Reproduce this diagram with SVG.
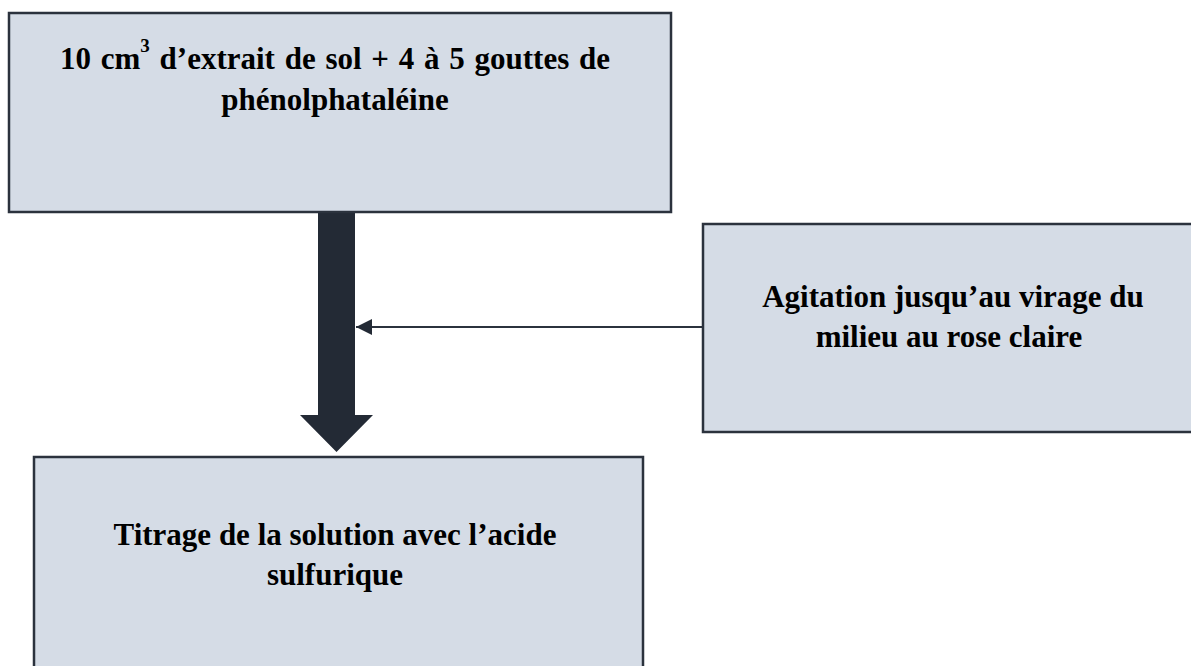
<svg xmlns="http://www.w3.org/2000/svg" width="1191" height="666" viewBox="0 0 1191 666">
  <defs>
    <style>
      .box { fill: #d5dce6; stroke: #2b323d; stroke-width: 2.5; }
      .label { font-family: "Liberation Serif", "Times New Roman", serif; font-weight: bold; font-size: 31px; fill: #000; text-anchor: middle; }
      .wide { word-spacing: 2px; }
      .sup { font-size: 19px; }
      .flow { fill: #232a35; }
      .link { stroke: #2b323d; stroke-width: 2; fill: none; }
    </style>
    <marker id="head" markerWidth="16" markerHeight="16" refX="16" refY="8" orient="auto" markerUnits="userSpaceOnUse">
      <path d="M0,0 L16,8 L0,16 Z" fill="#232a35"/>
    </marker>
  </defs>

  <rect width="1191" height="666" fill="#ffffff"/>

  <!-- connectors -->
  <g id="connectors">
    <path class="flow" d="M318,212 H355 V415 H373 L336.5,452 L300,415 H318 Z"/>
    <line class="link" x1="704" y1="327" x2="356" y2="327" marker-end="url(#head)"/>
  </g>

  <!-- start: sample preparation -->
  <g id="node-sample">
    <rect class="box" x="9" y="13" width="662" height="199"/>
    <text class="label wide" x="335" y="69">10 cm<tspan class="sup" dy="-17">3</tspan><tspan dy="17"> d’extrait de sol + 4 à 5 gouttes de</tspan></text>
    <text class="label" x="335" y="110">phénolphataléine</text>
  </g>

  <!-- side step: stirring -->
  <g id="node-agitation">
    <rect class="box" x="703" y="224" width="500" height="208"/>
    <text class="label" x="953" y="307">Agitation jusqu’au virage du</text>
    <text class="label" x="949" y="347">milieu au rose claire</text>
  </g>

  <!-- end: titration -->
  <g id="node-titrage">
    <rect class="box" x="34" y="457" width="609" height="230"/>
    <text class="label" x="335" y="545">Titrage de la solution avec l’acide</text>
    <text class="label" x="335" y="585">sulfurique</text>
  </g>
</svg>
